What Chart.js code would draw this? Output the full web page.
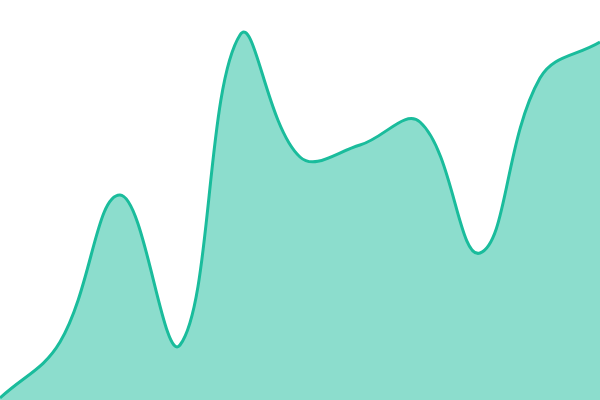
<!DOCTYPE html>
<html>
<head>
<meta charset="utf-8">
<script src="https://cdn.jsdelivr.net/npm/chart.js@4"></script>
<style>
  html, body { margin: 0; padding: 0; background: #fff; }
  #wrap { width: 600px; height: 400px; }
</style>
</head>
<body>
<div id="wrap"><canvas id="chart"></canvas></div>
<script>
const labels = ['1', '2', '3', '4', '5', '6', '7', '8', '9', '10', '11'];
const values = [2, 58, 205, 55, 365, 243, 255, 278, 147, 322, 358];

const ctx = document.getElementById('chart').getContext('2d');
new Chart(ctx, {
  type: 'line',
  data: {
    labels: labels,
    datasets: [{
      data: values,
      borderColor: '#1abc9c',
      backgroundColor: 'rgba(26, 188, 156, 0.5)',
      borderWidth: 3,
      fill: 'origin',
      tension: 0.4,
      pointRadius: 0
    }]
  },
  options: {
    responsive: true,
    maintainAspectRatio: false,
    animation: false,
    layout: { padding: 0 },
    scales: {
      x: { display: false },
      y: { display: false, min: 0, max: 400 }
    },
    plugins: {
      legend: { display: false },
      tooltip: { enabled: false }
    }
  }
});
</script>
</body>
</html>
